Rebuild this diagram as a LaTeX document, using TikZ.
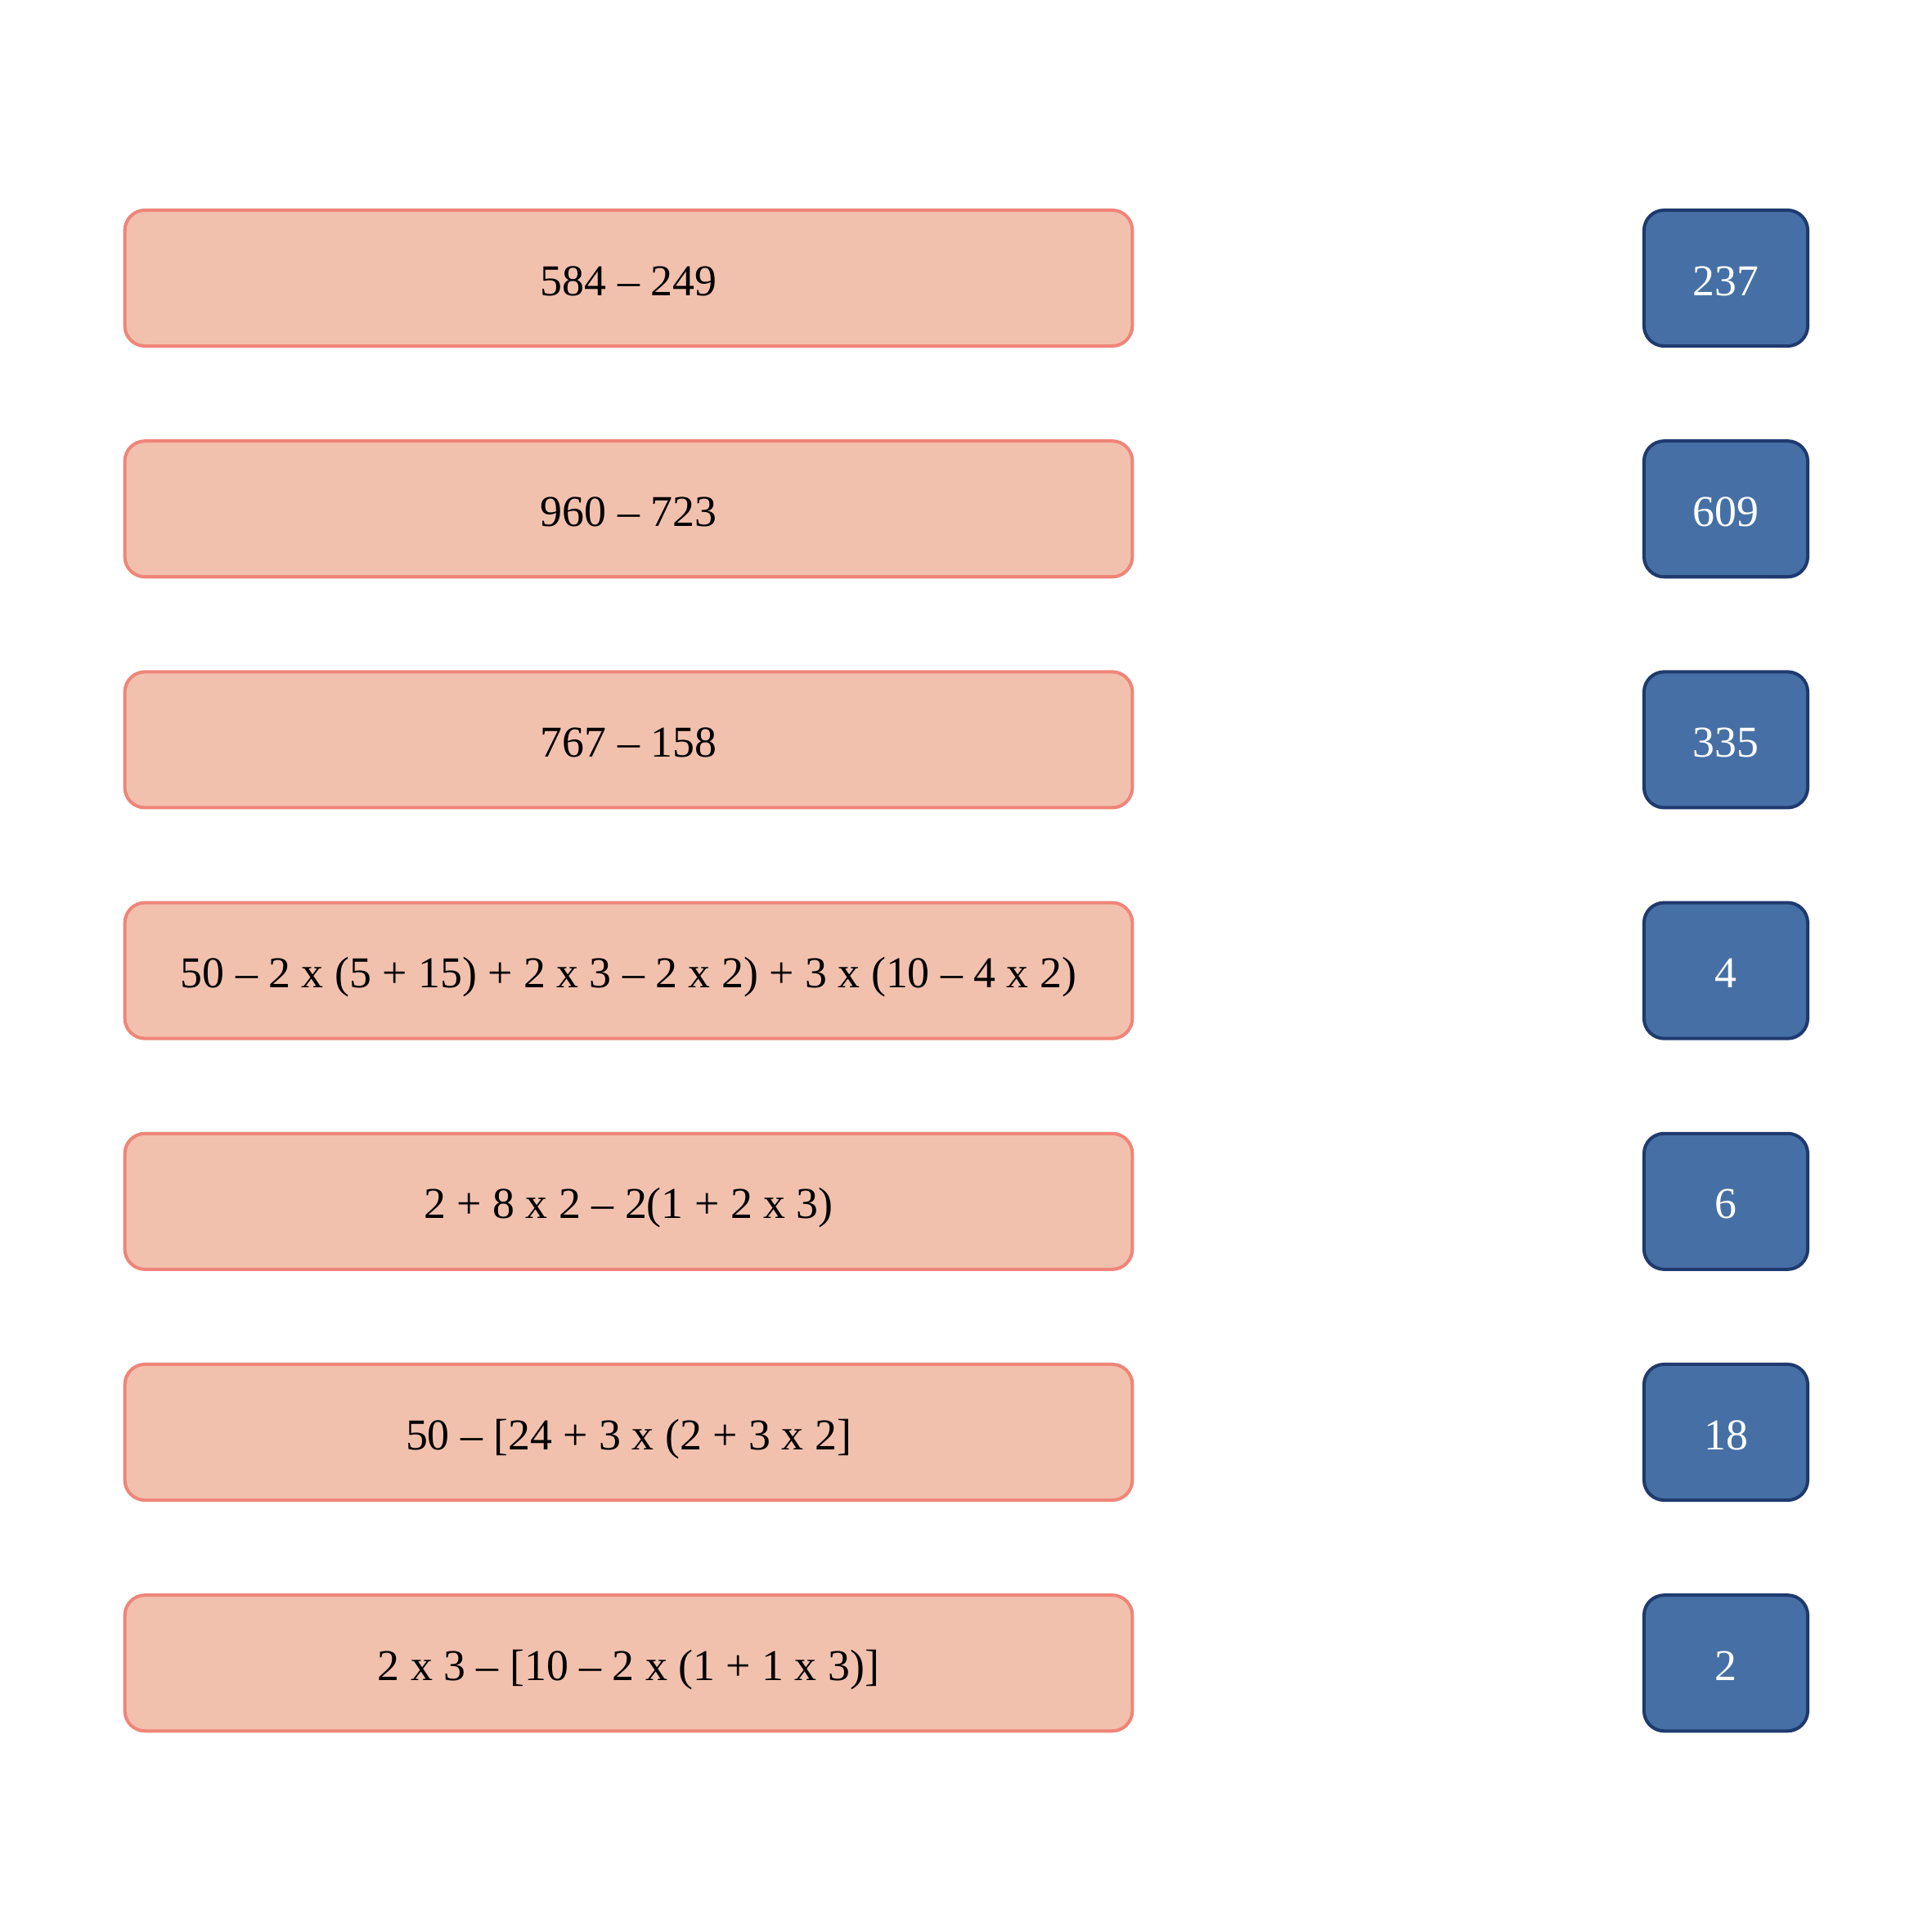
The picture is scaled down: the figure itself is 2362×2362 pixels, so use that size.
\documentclass[tikz,border=0pt]{standalone}
\usepackage{fontspec}
\setmainfont{Liberation Serif}
\definecolor{exprfill}{HTML}{F2C1AE}
\definecolor{exprdraw}{HTML}{EF8579}
\definecolor{resfill}{HTML}{4670A5}
\definecolor{resdraw}{HTML}{1F3A6E}
\begin{document}
\begin{tikzpicture}[x=0.01cm,y=-0.01cm,font=\fontsize{15.3}{18}\selectfont,line join=round,
	exprbox/.style={draw=exprdraw,fill=exprfill,line width=1.15pt,rounded corners=7pt,
		minimum width=12.31cm,minimum height=1.66cm,text height=14pt,text depth=2pt},
	resbox/.style={draw=resdraw,fill=resfill,line width=1.15pt,rounded corners=7pt,
		minimum width=2cm,minimum height=1.66cm,text height=14pt,text depth=2pt,text=white}]
	\useasboundingbox (0,0) rectangle (2362,2362);
	\foreach \e/\r [count=\i] in {584 – 249/237, 960 – 723/609, 767 – 158/335,
		50 – 2 x (5 + 15) + 2 x 3 – 2 x 2) + 3 x (10 – 4 x 2)/4,
		2 + 8 x 2 – 2(1 + 2 x 3)/6, 50 – [24 + 3 x (2 + 3 x 2]/18,
		2 x 3 – [10 – 2 x (1 + 1 x 3)]/2}{
		\node[exprbox] (e\i) at (768.5,{340+282.2*(\i-1)}) {\e};
		\node[resbox] (r\i) at (2110,{340+282.2*(\i-1)}) {\r};
	}
\end{tikzpicture}
\end{document}
